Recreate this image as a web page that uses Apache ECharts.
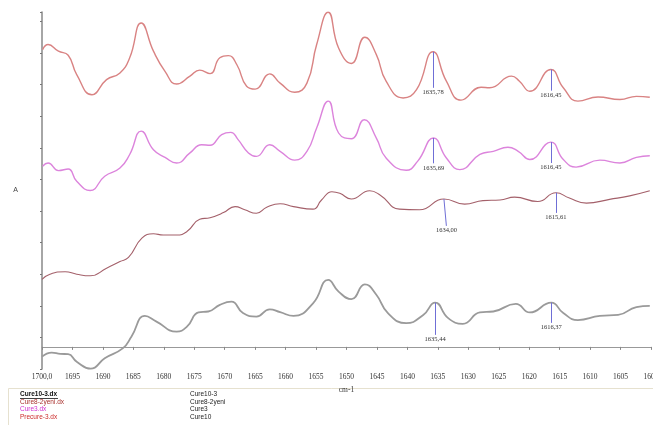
<!DOCTYPE html>
<html lang="en">
<head>
  <meta charset="UTF-8">
  <title>FTIR spectra 1700-1600 cm-1</title>
  <script type="text/javascript" src="https://cdn.jsdelivr.net/npm/echarts@6/dist/echarts.min.js"></script>
  <style type="text/css">
    * {
      margin: 0;
      padding: 0;
    }

    html, body {
      width: 100%;
      height: 100%;
      background: #fff;
    }

    #chartbox {
      width: 653px;
      height: 425px;
    }
  </style>
</head>

<body>
<div id="chartbox"></div>
</body>
<script type="text/javascript">
  // [wavenumber, absorbance (offset)]
  let precure3 = [
    [1699.9, 9.41], [1699.0, 9.57], [1697.3, 9.36], [1695.7, 9.23], [1694.3, 8.62], [1691.8, 7.98],
    [1689.4, 8.46], [1687.2, 8.67], [1685.6, 9.15], [1683.7, 10.25], [1681.7, 9.36], [1679.8, 8.72],
    [1677.9, 8.32], [1675.7, 8.57], [1674.1, 8.76], [1672.4, 8.65], [1670.8, 9.15], [1669.4, 9.22],
    [1668.0, 8.93], [1666.4, 8.25], [1665.0, 8.16], [1662.6, 8.64], [1660.9, 8.35], [1658.5, 8.06],
    [1656.5, 8.35], [1654.9, 9.57], [1653.0, 10.59], [1651.3, 9.46], [1649.2, 8.97],
    [1647.0, 9.80], [1645.1, 9.25], [1643.5, 8.41], [1640.7, 7.88], [1638.5, 8.14], [1635.78, 9.34],
    [1633.6, 8.41], [1631.2, 7.81], [1627.9, 8.22], [1626.5, 8.20], [1622.9, 8.57], [1621.6, 8.41],
    [1619.9, 8.09], [1616.45, 8.78], [1614.4, 8.20], [1612.0, 7.78], [1608.7, 7.91], [1605.1, 7.83],
    [1602.4, 7.93], [1600.2, 7.90]
  ]
  let cure3 = [
    [1699.9, 5.72], [1699.0, 5.82], [1697.3, 5.58], [1695.7, 5.63], [1694.3, 5.24], [1692.1, 4.95],
    [1689.7, 5.40], [1687.2, 5.66], [1685.6, 6.09], [1683.7, 6.83], [1681.7, 6.24], [1679.8, 6.00],
    [1677.9, 5.82], [1675.7, 6.14], [1673.8, 6.40], [1672.4, 6.38], [1670.5, 6.72], [1669.0, 6.79],
    [1667.8, 6.56], [1666.1, 6.14], [1664.8, 6.03], [1662.6, 6.40], [1660.9, 6.19], [1658.5, 5.91],
    [1656.5, 6.19], [1654.9, 6.93], [1653.0, 7.78], [1651.3, 6.77], [1649.2, 6.59],
    [1647.1, 7.19], [1645.1, 6.61], [1643.5, 5.98], [1640.2, 5.59], [1638.3, 5.88], [1635.69, 6.61],
    [1633.6, 5.98], [1631.4, 5.61], [1628.1, 6.09], [1625.9, 6.19], [1623.5, 6.32], [1621.8, 6.19],
    [1619.9, 5.93], [1616.45, 6.48], [1614.4, 5.93], [1612.3, 5.69], [1608.4, 5.91], [1605.1, 5.82],
    [1602.4, 6.00], [1600.2, 6.05]
  ]
  let cure8_2yeni = [
    [1700.0, 2.14], [1698.7, 2.30], [1696.2, 2.38], [1694.3, 2.30], [1692.1, 2.25], [1689.4, 2.49],
    [1687.2, 2.70], [1685.8, 2.83], [1683.6, 3.44], [1681.7, 3.58], [1680.1, 3.54], [1677.9, 3.54],
    [1676.2, 3.65], [1674.1, 4.04], [1672.4, 4.09], [1670.2, 4.25], [1668.3, 4.44], [1666.7, 4.34],
    [1664.8, 4.23], [1663.1, 4.42], [1660.9, 4.53], [1658.7, 4.44], [1655.5, 4.36], [1654.1, 4.65],
    [1652.4, 4.91], [1651.1, 4.86], [1649.2, 4.68], [1646.2, 4.94], [1644.5, 4.81], [1641.3, 4.36],
    [1638.0, 4.34], [1634.0, 4.68], [1630.6, 4.52], [1627.6, 4.63], [1624.8, 4.65], [1622.4, 4.74],
    [1618.6, 4.60], [1615.61, 4.88], [1613.4, 4.71], [1610.6, 4.55], [1606.8, 4.67], [1603.5, 4.78],
    [1600.2, 4.94]
  ]
  let cure10_3 = [
    [1700.0, -0.31], [1698.4, -0.18], [1697.0, -0.22], [1695.7, -0.23], [1694.3, -0.47], [1692.0, -0.69],
    [1689.7, -0.36], [1686.7, -0.04], [1685.3, 0.33], [1683.1, 0.98], [1681.2, 0.80], [1677.9, 0.48],
    [1676.2, 0.64], [1674.3, 1.09], [1672.7, 1.12], [1670.8, 1.33], [1668.9, 1.43], [1667.0, 1.07],
    [1664.8, 0.96], [1662.6, 1.19], [1660.9, 1.10], [1658.7, 0.98], [1655.5, 1.38], [1653.0, 2.12],
    [1651.3, 1.75], [1649.2, 1.51], [1647.0, 1.98], [1645.1, 1.65], [1643.2, 1.07],
    [1640.2, 0.75], [1637.4, 1.01], [1635.44, 1.40], [1633.3, 0.91], [1630.9, 0.73], [1628.1, 1.09],
    [1625.9, 1.12], [1622.2, 1.36], [1619.9, 1.09], [1616.37, 1.40], [1614.4, 1.07], [1612.0, 0.85],
    [1608.4, 0.98], [1605.4, 1.01], [1602.4, 1.26], [1600.2, 1.30]
  ]

  // picked peaks: [wavenumber, label, wavenumber at line foot, drop in absorbance]
  let peaksPrecure3 = [[1635.78, '1635,78', 1635.78, 1.14], [1616.45, '1616,45', 1616.45, 0.67]]
  let peaksCure3 = [[1635.69, '1635,69', 1635.69, 0.80], [1616.45, '1616,45', 1616.45, 0.66]]
  let peaksCure8 = [[1634.00, '1634,00', 1633.6, 0.85], [1615.61, '1615,61', 1615.61, 0.64]]
  let peaksCure10 = [[1635.44, '1635,44', 1635.44, 1.02], [1616.37, '1616,37', 1616.37, 0.64]]

  let xTicks = [1700, 1695, 1690, 1685, 1680, 1675, 1670, 1665, 1660, 1655, 1650,
    1645, 1640, 1635, 1630, 1625, 1620, 1615, 1610, 1605, 1600]

  let legendRows = [
    ['Cure10-3.dx', 'Cure10-3', '#111'],
    ['Cure8-2yeni.dx', 'Cure8-2yeni', '#a8302c'],
    ['Cure3.dx', 'Cure3', '#d030d0'],
    ['Precure-3.dx', 'Cure10', '#cc2a2a']
  ]

  function valueAt(data, wn) {
    for (let i = 0; i < data.length - 1; i++) {
      let a = data[i], b = data[i + 1]
      if (wn <= a[0] && wn >= b[0]) {
        let t = (a[0] - wn) / (a[0] - b[0])
        return a[1] + (b[1] - a[1]) * t
      }
    }
    return data[data.length - 1][1]
  }

  function peakLines(data, peaks) {
    return {
      silent: true,
      symbol: ['none', 'none'],
      animation: false,
      lineStyle: {color: '#6f6fd6', width: 1, type: 'solid'},
      label: {
        show: true,
        position: 'end',
        distance: 1,
        fontFamily: 'Liberation Serif',
        fontSize: 6.5,
        color: '#333'
      },
      data: peaks.map(function (p) {
        let top = valueAt(data, p[0])
        return [
          {coord: [p[0], top]},
          {coord: [p[2], top - p[3]], label: {formatter: p[1]}}
        ]
      })
    }
  }

  function spectrum(name, data, color, width, peaks) {
    return {
      name: name,
      type: 'line',
      data: data,
      smooth: 0.5,
      showSymbol: false,
      symbol: 'none',
      animation: false,
      lineStyle: {color: color, width: width},
      markLine: peakLines(data, peaks)
    }
  }

  let myChart = echarts.init(document.getElementById('chartbox'))

  let graphics = [{
    type: 'rect',
    left: 8,
    top: 388,
    shape: {width: 660, height: 40},
    style: {fill: '#fff', stroke: '#e6e1cf', lineWidth: 1}
  }]
  legendRows.forEach(function (row, i) {
    let y = 391 + i * 7.5
    graphics.push({
      type: 'text',
      left: 20,
      top: y,
      style: {
        text: row[0],
        fill: row[2],
        font: (i === 0 ? 'bold ' : '') + '6.5px "Liberation Sans"'
      }
    })
    graphics.push({
      type: 'text',
      left: 190,
      top: y,
      style: {text: row[1], fill: '#222', font: '6.5px "Liberation Sans"'}
    })
  })
  // underline of the active file
  graphics.push({
    type: 'line',
    shape: {x1: 20, y1: 398.5, x2: 58, y2: 398.5},
    style: {stroke: '#111', lineWidth: 0.8}
  })

  let option = {
    backgroundColor: '#fff',
    animation: false,
    grid: {
      left: 42,
      right: 2,
      top: 12,
      bottom: 56,
      containLabel: false,
      outerBoundsMode: 'none'
    },
    xAxis: {
      type: 'value',
      inverse: true,
      min: 1600,
      max: 1700,
      interval: 5,
      name: 'cm-1',
      nameLocation: 'middle',
      nameGap: 13,
      nameTextStyle: {fontFamily: 'Liberation Serif', fontSize: 7.5, color: '#333'},
      splitLine: {show: false},
      axisLine: {lineStyle: {color: '#999', width: 1}},
      axisTick: {length: 3, lineStyle: {color: '#888'}},
      axisLabel: {
        margin: 4,
        fontFamily: 'Liberation Serif',
        fontSize: 7.5,
        color: '#333',
        formatter: function (v) {
          return xTicks.indexOf(v) === 0 ? '1700,0' : String(v)
        }
      }
    },
    yAxis: {
      type: 'value',
      min: -0.7,
      max: 10.6,
      interval: 1,
      name: 'A',
      nameLocation: 'middle',
      nameRotate: 0,
      nameGap: 24,
      nameTextStyle: {fontFamily: 'Liberation Sans', fontSize: 7, color: '#444'},
      splitLine: {show: false},
      axisLine: {show: true, lineStyle: {color: '#888', width: 1.5}},
      axisTick: {show: true, length: 2, lineStyle: {color: '#777'}},
      axisLabel: {show: false}
    },
    graphic: graphics,
    series: [
      spectrum('Precure-3.dx', precure3, '#d98383', 1.4, peaksPrecure3),
      spectrum('Cure3.dx', cure3, '#dc84dc', 1.4, peaksCure3),
      spectrum('Cure8-2yeni.dx', cure8_2yeni, '#a4606a', 1.1, peaksCure8),
      spectrum('Cure10-3.dx', cure10_3, '#9a9a9a', 1.8, peaksCure10)
    ]
  }
  myChart.setOption(option)
</script>
</html>
